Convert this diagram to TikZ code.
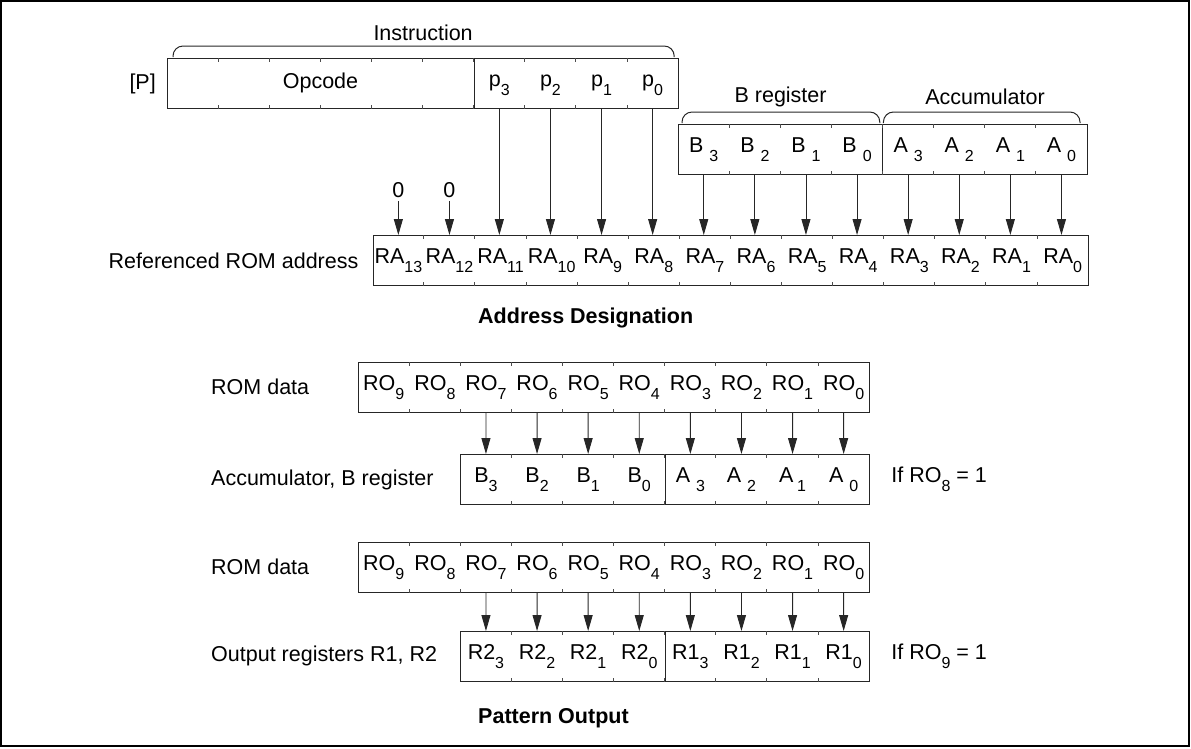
\documentclass[tikz,border=0pt]{standalone}
\usepackage{fontspec}
\setmainfont{Liberation Sans}
\usepackage{tikz}
\usetikzlibrary{positioning,calc,arrows.meta}
\newcommand{\lowsub}[1]{\raisebox{-9pt}{\fontsize{16}{16}\selectfont #1}}

\begin{document}
\begin{tikzpicture}[
	x=1pt, y=-1pt,
	font=\fontsize{21.5}{26}\selectfont,
	regbox/.style={draw=black!85, line width=1.2pt, minimum height=50pt, inner sep=0pt, anchor=north west},
	bitcell/.style={minimum width=51.1pt, minimum height=50pt, inner sep=0pt, text height=15.4pt, text depth=9pt, anchor=north west},
	bitarrow/.style={draw=black!85, line width=0.9pt, -{Triangle[length=16pt,width=9pt]}},
	bracket/.style={draw=black!85, line width=1pt, rounded corners=10pt},
	divider/.style={draw=black!85, line width=1pt},
	tickmark/.style={draw=black!70, line width=0.8pt},
	rowlabel/.style={anchor=west, inner sep=0pt},
	sectiontitle/.style={anchor=west, inner sep=0pt, font=\fontsize{21.5}{26}\selectfont\bfseries}
	]
	
	% Page frame
	\useasboundingbox (0,0) rectangle (1191,748);
	\draw[line width=2pt] (1,1) rectangle (1189,746);
	
	% Instruction register
	\node[regbox, minimum width=511pt] (instr) at (167,58) {};
	\foreach \k in {0,...,5}
		\node[bitcell] (instr-\k) at ($(instr.north west)+(\k*51.1,0)$) {};
	\foreach \txt [count=\k from 6] in {p\lowsub{3}, p\lowsub{2}, p\lowsub{1}, p\lowsub{0}}
		\node[bitcell] (instr-\k) at ($(instr.north west)+(\k*51.1,0)$) {\txt};
	\node (opcode) at ($(instr-0)!0.5!(instr-5)$) {Opcode};
	\node[anchor=east, inner sep=0pt] (plabel) at ($(instr.west)+(-11,0)$) {[P]};
	\draw[divider] (instr-5.north east) -- (instr-5.south east);
	\draw[bracket] ($(instr.north west)+(6,-1)$) |- ($(instr.north)+(0,-12)$) -| ($(instr.north east)+(-5,-1)$);
	\node (instrlabel) at ($(instr.north)+(0,-25)$) {Instruction};
	
	% B register and Accumulator
	\node[regbox, minimum width=408.8pt] (regs) at (678,124) {};
	\foreach \txt [count=\k from 0] in {B \lowsub{3}, B \lowsub{2}, B \lowsub{1}, B \lowsub{0}, A \lowsub{3}, A \lowsub{2}, A \lowsub{1}, A \lowsub{0}}
		\node[bitcell] (regs-\k) at ($(regs.north west)+(\k*51.1,0)$) {\txt};
	\draw[divider] (regs-3.north east) -- (regs-3.south east);
	\draw[bracket] ($(regs.north west)+(4,-1)$) |- ($(regs-1.north east)+(0,-12)$) -| ($(regs-3.north east)+(-3,-1)$);
	\draw[bracket] ($(regs-4.north west)+(1,-1)$) |- ($(regs-5.north east)+(0,-12)$) -| ($(regs.north east)+(-8,-1)$);
	\node (breglabel) at ($(regs-1.north east)+(0,-27)$) {B register};
	\node (acclabel) at ($(regs-5.north east)+(0,-27)$) {Accumulator};
	
	% Referenced ROM address
	\node[regbox, minimum width=715.4pt] (ra) at (372.6,235) {};
	\foreach \txt [count=\k from 0] in {RA\lowsub{13}, RA\lowsub{12}, RA\lowsub{11}, RA\lowsub{10}, RA\lowsub{9}, RA\lowsub{8}, RA\lowsub{7}, RA\lowsub{6}, RA\lowsub{5}, RA\lowsub{4}, RA\lowsub{3}, RA\lowsub{2}, RA\lowsub{1}, RA\lowsub{0}}
		\node[bitcell] (ra-\k) at ($(ra.north west)+(\k*51.1,0)$) {\txt};
	\node[anchor=east, inner sep=0pt] (ralabel) at ($(ra.west)+(-14,0)$) {Referenced ROM address};
	\node (zeroA) at ($(ra-0.north)+(0,-45)$) {0};
	\node (zeroB) at ($(ra-1.north)+(0,-45)$) {0};
	\draw[bitarrow] (zeroA) -- (ra-0.north);
	\draw[bitarrow] (zeroB) -- (ra-1.north);
	\foreach \k [evaluate=\k as \dst using int(\k-4)] in {6,...,9}
		\draw[bitarrow] (instr-\k.south) -- (instr-\k.south |- ra-\dst.north);
	\foreach \k [evaluate=\k as \dst using int(\k+6)] in {0,...,7}
		\draw[bitarrow] (regs-\k.south) -- (regs-\k.south |- ra-\dst.north);
	\node[sectiontitle] (addrtitle) at (478,318) {Address Designation};
	
	% ROM data to Accumulator, B register
	\node[regbox, minimum width=511pt] (romA) at (358,362) {};
	\foreach \txt [count=\k from 0] in {RO\lowsub{9}, RO\lowsub{8}, RO\lowsub{7}, RO\lowsub{6}, RO\lowsub{5}, RO\lowsub{4}, RO\lowsub{3}, RO\lowsub{2}, RO\lowsub{1}, RO\lowsub{0}}
		\node[bitcell] (romA-\k) at ($(romA.north west)+(\k*51.1,0)$) {\txt};
	\node[rowlabel] (romAlabel) at (211,387) {ROM data};
	\node[regbox, minimum width=408.8pt] (acc) at (460.2,454) {};
	\foreach \txt [count=\k from 0] in {B\lowsub{3}, B\lowsub{2}, B\lowsub{1}, B\lowsub{0}, A \lowsub{3}, A \lowsub{2}, A\,\lowsub{1}, A \lowsub{0}}
		\node[bitcell] (acc-\k) at ($(acc.north west)+(\k*51.1,0)$) {\txt};
	\draw[divider] (acc-3.north east) -- (acc-3.south east);
	\node[rowlabel] (acclabelB) at (211,479.5) {Accumulator, B register};
	\node[rowlabel] (condA) at ($(acc.east)+(21,0)$) {If RO\lowsub{8} = 1};
	\foreach \k [evaluate=\k as \src using int(\k+2)] in {0,...,7}
		\draw[bitarrow] (romA-\src.south) -- (acc-\k.north);
	
	% ROM data to Output registers
	\node[regbox, minimum width=511pt] (romB) at (358,542) {};
	\foreach \txt [count=\k from 0] in {RO\lowsub{9}, RO\lowsub{8}, RO\lowsub{7}, RO\lowsub{6}, RO\lowsub{5}, RO\lowsub{4}, RO\lowsub{3}, RO\lowsub{2}, RO\lowsub{1}, RO\lowsub{0}}
		\node[bitcell] (romB-\k) at ($(romB.north west)+(\k*51.1,0)$) {\txt};
	\node[rowlabel] (romBlabel) at (211,567) {ROM data};
	\node[regbox, minimum width=408.8pt] (outp) at (460.2,631) {};
	\foreach \txt [count=\k from 0] in {R2\lowsub{3}, R2\lowsub{2}, R2\lowsub{1}, R2\lowsub{0}, R1\lowsub{3}, R1\lowsub{2}, R1\lowsub{1}, R1\lowsub{0}}
		\node[bitcell] (outp-\k) at ($(outp.north west)+(\k*51.1,0)$) {\txt};
	\draw[divider] (outp-3.north east) -- (outp-3.south east);
	\node[rowlabel] (outplabel) at (211,656) {Output registers R1, R2};
	\node[rowlabel] (condB) at ($(outp.east)+(21,0)$) {If RO\lowsub{9} = 1};
	\foreach \k [evaluate=\k as \src using int(\k+2)] in {0,...,7}
		\draw[bitarrow] (romB-\src.south) -- (outp-\k.north);
	\node[sectiontitle] (pattitle) at (478,718) {Pattern Output};
	
	% Tick marks on cell borders
	\foreach \reg/\n in {instr/9, regs/7, ra/13, romA/9, acc/7, romB/9, outp/7}
		\foreach \k in {1,...,\n} {
			\draw[tickmark] ($(\reg.north west)+(\k*51.1,0)$) -- ++(0,4);
			\draw[tickmark] ($(\reg.south west)+(\k*51.1,0)$) -- ++(0,-4);
		}
	
\end{tikzpicture}
\end{document}
